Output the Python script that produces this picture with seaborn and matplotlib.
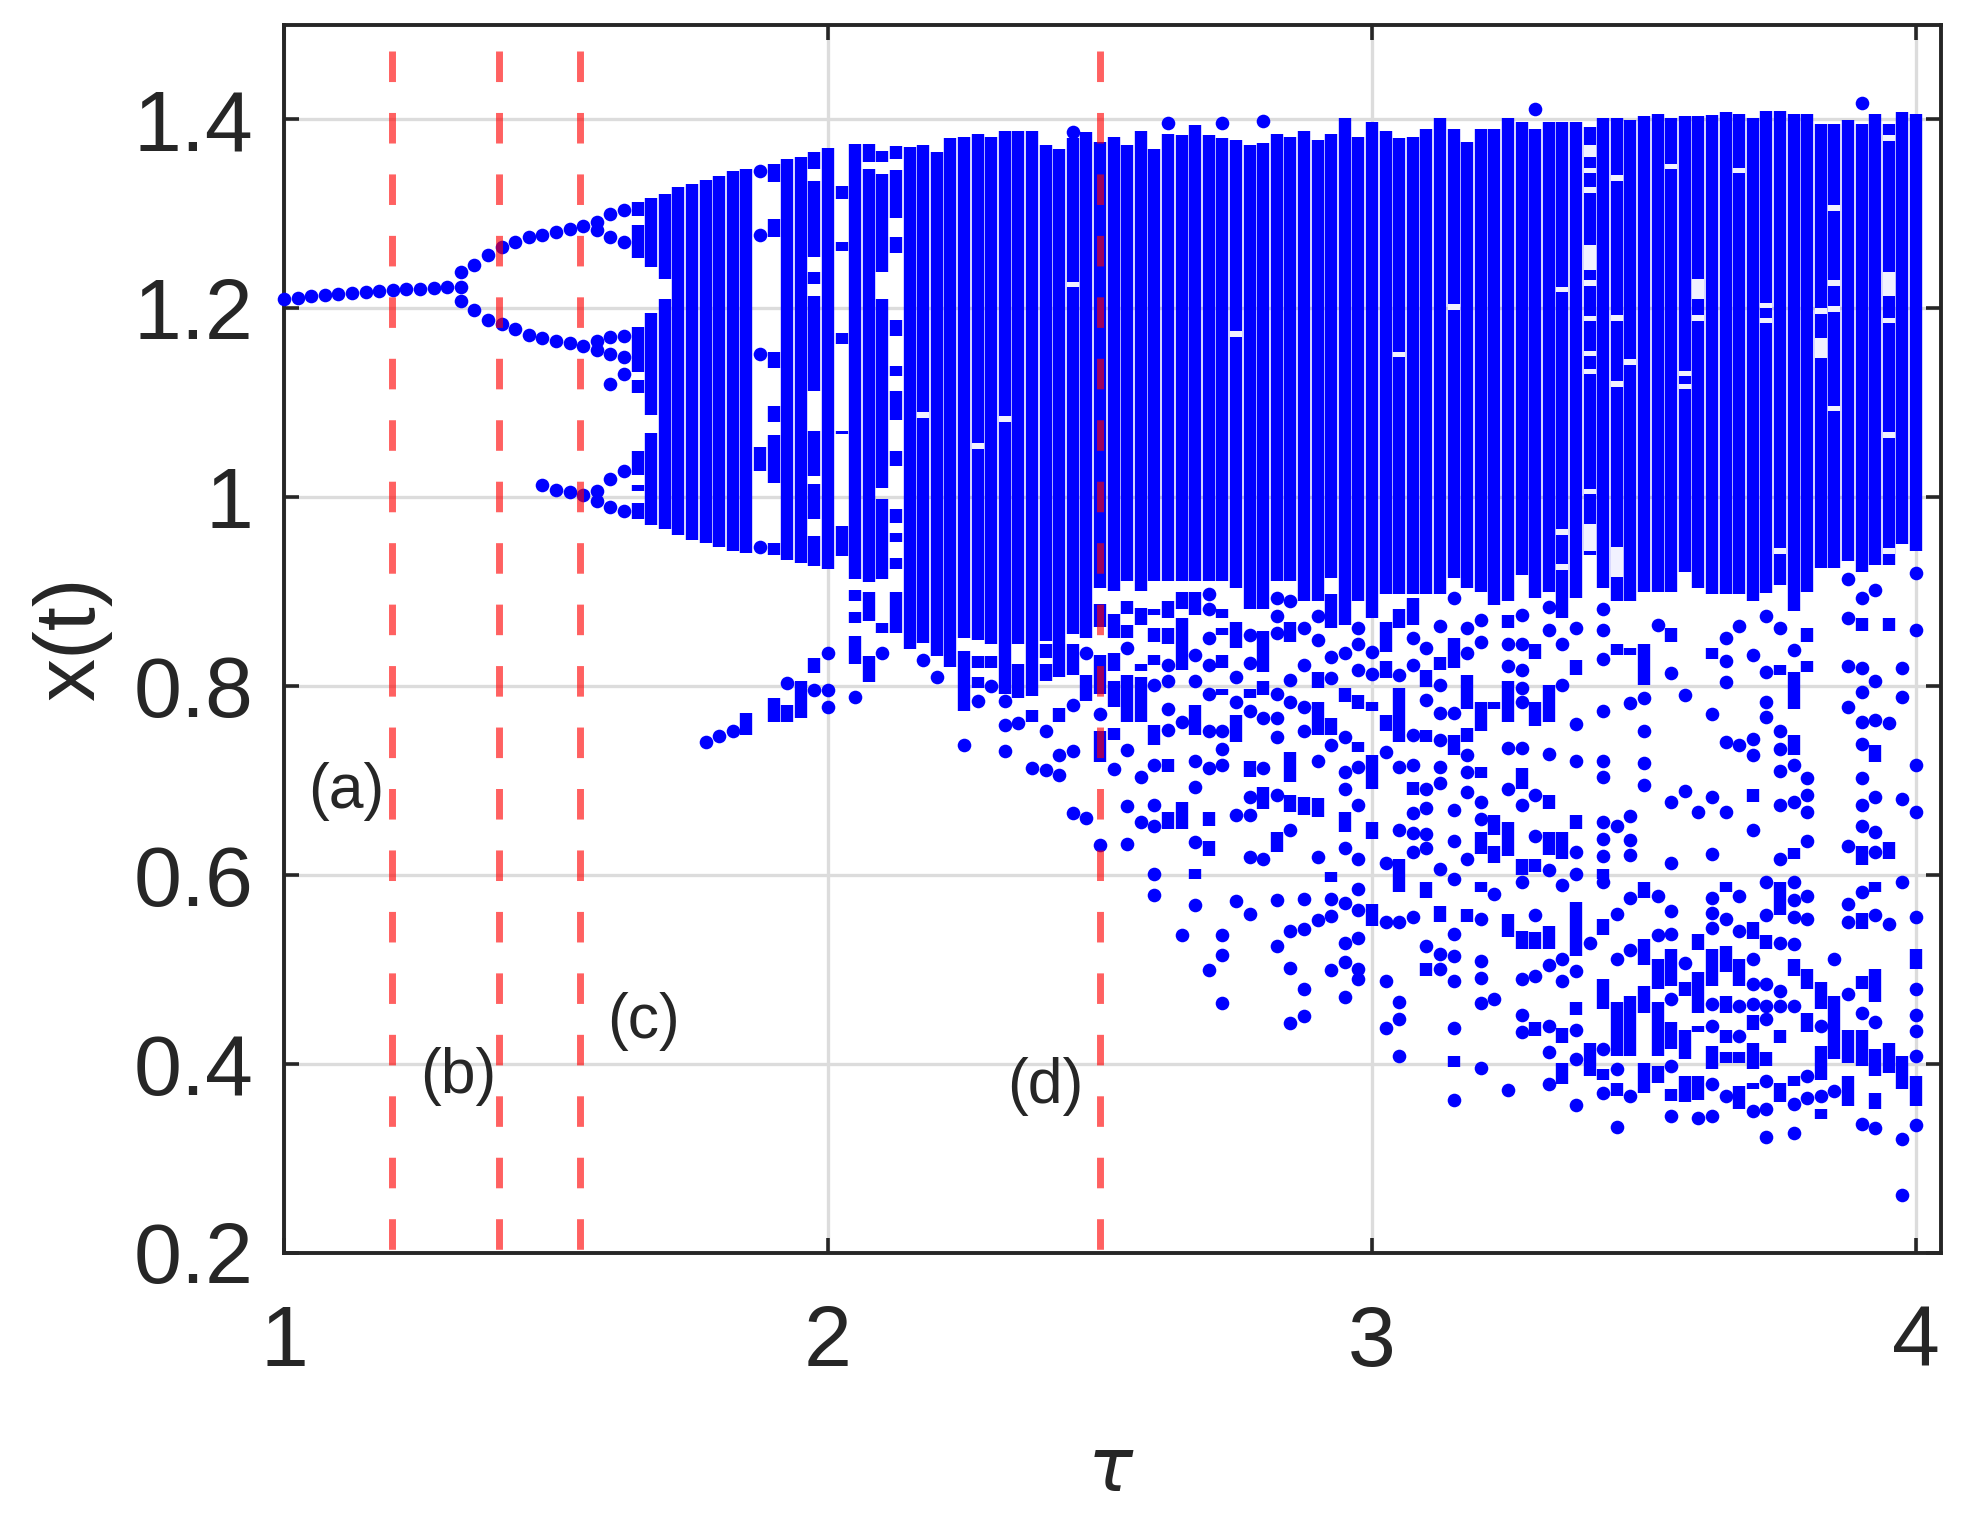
import numpy as np
import pandas as pd
import matplotlib
matplotlib.use('Agg')
import matplotlib.pyplot as plt
import seaborn as sns

# vertical marker lines and their labels
red_tau = [1.198, 1.396, 1.545, 2.5]
panel_labels = ['(a)', '(b)', '(c)', '(d)']
panel_tau = [1.115, 1.32, 1.661, 2.399]
panel_x = [0.688, 0.386, 0.445, 0.376]

x_ticks = [1, 2, 3, 4]
y_ticks = [0.2, 0.4, 0.6, 0.8, 1.0, 1.2, 1.4]
y_tick_labels = ['0.2', '0.4', '0.6', '0.8', '1', '1.2', '1.4']

# single orbit points before the chaotic band, tau: x values
dots_orbit = {
    1.0: [1.21], 1.025: [1.211], 1.05: [1.213], 1.075: [1.214], 1.1: [1.215], 1.125: [1.216],
    1.15: [1.217], 1.175: [1.218], 1.2: [1.219], 1.225: [1.22], 1.25: [1.2205], 1.275: [1.221],
    1.3: [1.222], 1.325: [1.238, 1.222, 1.208], 1.35: [1.246, 1.198], 1.375: [1.256, 1.188],
    1.4: [1.265, 1.183], 1.425: [1.27, 1.178], 1.45: [1.275, 1.172], 1.475: [1.278, 1.169, 1.013],
    1.5: [1.281, 1.165, 1.008], 1.525: [1.284, 1.163, 1.005], 1.55: [1.287, 1.16, 1.002],
    1.575: [1.291, 1.283, 1.165, 1.156, 1.006, 0.996], 1.6: [1.3, 1.276, 1.17, 1.152, 1.12, 1.019, 0.99],
    1.625: [1.304, 1.27, 1.171, 1.148, 1.13, 1.028, 0.985],
    1.775: [0.741], 1.8: [0.747], 1.825: [0.752], 1.875: [1.345, 1.278, 1.152, 0.947],
    1.925: [0.803], 1.975: [0.796], 2.0: [0.835, 0.796, 0.778],
    2.025: [], 2.05: [0.788], 2.1: [0.835], 2.175: [0.828], 2.2: [0.809],
}

# chaotic band, one column for each tau
band_tau = [2.15, 2.175, 2.2, 2.225, 2.25, 2.275, 2.3, 2.325, 2.35, 2.375, 2.4, 2.425, 2.45, 2.475, 2.5,
            2.525, 2.55, 2.575, 2.6, 2.625, 2.65, 2.675, 2.7, 2.725, 2.75, 2.775, 2.8, 2.825, 2.85, 2.875,
            2.9, 2.925, 2.95, 2.975, 3.0, 3.025, 3.05, 3.075, 3.1, 3.125, 3.15, 3.175, 3.2, 3.225, 3.25,
            3.275, 3.3, 3.325, 3.35, 3.375, 3.4, 3.425, 3.45, 3.475, 3.5, 3.525, 3.55, 3.575, 3.6, 3.625,
            3.65, 3.675, 3.7, 3.725, 3.75, 3.775, 3.8, 3.825, 3.85, 3.875, 3.9, 3.925, 3.95, 3.975, 4.0]
band_high = [1.371, 1.373, 1.366, 1.38, 1.381, 1.385, 1.381, 1.388, 1.388, 1.388, 1.373, 1.369, 1.38, 1.387, 1.376,
             1.381, 1.373, 1.388, 1.369, 1.385, 1.383, 1.394, 1.383, 1.38, 1.378, 1.373, 1.375, 1.385, 1.381, 1.388,
             1.378, 1.385, 1.401, 1.381, 1.397, 1.388, 1.38, 1.381, 1.39, 1.401, 1.39, 1.376, 1.39, 1.39, 1.401,
             1.397, 1.39, 1.397, 1.397, 1.397, 1.392, 1.401, 1.401, 1.399, 1.404, 1.406, 1.401, 1.404, 1.404, 1.405,
             1.408, 1.406, 1.402, 1.409, 1.409, 1.406, 1.406, 1.395, 1.395, 1.399, 1.395, 1.406, 1.395, 1.408, 1.406]
band_low = [0.839, 0.846, 0.832, 0.82, 0.851, 0.849, 0.844, 0.791, 0.844, 0.789, 0.848, 0.809, 0.855, 0.851, 0.904,
            0.901, 0.911, 0.901, 0.911, 0.911, 0.911, 0.911, 0.911, 0.911, 0.904, 0.882, 0.882, 0.911, 0.911, 0.89,
            0.89, 0.914, 0.865, 0.89, 0.872, 0.897, 0.897, 0.897, 0.897, 0.897, 0.914, 0.904, 0.9, 0.886, 0.89,
            0.918, 0.893, 0.9, 0.872, 0.893, 0.939, 0.904, 0.89, 0.89, 0.9, 0.9, 0.9, 0.921, 0.904, 0.897,
            0.897, 0.897, 0.89, 0.898, 0.907, 0.879, 0.9, 0.925, 0.925, 0.932, 0.921, 0.928, 0.928, 0.95, 0.943]

# isolated points just above the band
dots_top = {2.45: [1.387], 2.625: [1.396], 2.725: [1.396], 2.8: [1.398], 3.3: [1.411], 3.9: [1.417]}

# light holes in the band, tau and the x range of each
hole_tau = [2.175, 2.325, 2.275, 2.45, 2.75, 3.05, 3.15, 3.35, 3.4, 3.4, 3.4, 3.4, 3.4, 3.4, 3.4, 3.4, 3.4, 3.4,
            3.45, 3.45, 3.45, 3.475, 3.55, 3.6, 3.6, 3.575, 3.575, 3.675, 3.725, 3.725, 3.85, 3.85, 3.85, 3.85,
            3.825, 3.825, 3.95, 3.95, 3.95, 3.95, 3.35, 3.45, 3.95, 3.75, 3.35]
hole_high = [1.09, 1.086, 1.057, 1.228, 1.176, 1.154, 1.204, 1.223, 1.373, 1.349, 1.328, 1.267, 1.23, 1.192, 1.155, 1.136, 1.009, 0.971,
             1.341, 1.193, 1.123, 1.146, 1.353, 1.231, 1.193, 1.134, 1.12, 1.349, 1.206, 1.19, 1.309, 1.23, 1.202, 1.097,
             1.2, 1.168, 1.383, 1.238, 1.19, 1.069, 0.966, 0.947, 0.946, 0.946, 0.929]
hole_low = [1.084, 1.08, 1.051, 1.222, 1.17, 1.148, 1.198, 1.217, 1.36, 1.343, 1.322, 1.241, 1.224, 1.186, 1.149, 1.13, 1.003, 0.943,
            1.335, 1.187, 1.117, 1.14, 1.347, 1.21, 1.187, 1.128, 1.114, 1.343, 1.2, 1.184, 1.303, 1.224, 1.196, 1.091,
            1.194, 1.147, 1.377, 1.213, 1.184, 1.063, 0.96, 0.915, 0.94, 0.94, 0.923]

# column pieces left of the band, tau: (high, low)
runs_left = {
    1.65: [(1.313, 1.298), (1.288, 1.253), (1.18, 1.133), (1.124, 1.11), (1.049, 1.023), (1.013, 1.006), (0.994, 0.977)],
    1.675: [(1.317, 1.244), (1.195, 1.087), (1.068, 0.97)],
    1.7: [(1.321, 1.231), (1.21, 0.966)],
    1.725: [(1.328, 0.96)], 1.75: [(1.332, 0.955)], 1.775: [(1.336, 0.951)], 1.8: [(1.34, 0.947)],
    1.825: [(1.345, 0.943)], 1.85: [(1.347, 0.941), (0.771, 0.748)],
    1.875: [(1.053, 1.028)],
    1.9: [(1.353, 1.334), (1.295, 1.276), (1.154, 1.137), (1.097, 1.08), (1.066, 1.015), (0.951, 0.939), (0.787, 0.762)],
    1.925: [(1.358, 0.933), (0.78, 0.762)],
    1.95: [(1.36, 0.93), (0.805, 0.766)],
    1.975: [(1.365, 1.348), (1.335, 1.254), (1.238, 1.226), (1.213, 1.1125), (1.07, 1.0225), (1.0137, 0.9766), (0.959, 0.927), (0.83, 0.814)],
    2.0: [(1.37, 0.924)],
    2.025: [(1.33, 1.316), (1.27, 1.261), (1.174, 1.162), (1.07, 1.067), (0.969, 0.938)],
    2.05: [(1.374, 0.913), (0.902, 0.89), (0.878, 0.867), (0.853, 0.823)],
    2.075: [(1.374, 1.355), (1.348, 0.91), (0.899, 0.869), (0.832, 0.804)],
    2.1: [(1.367, 1.355), (1.342, 1.238), (1.21, 1.01), (0.998, 0.913), (0.867, 0.856)],
    2.125: [(1.372, 1.358), (1.346, 1.296), (1.275, 1.259), (1.188, 1.171), (1.139, 1.128), (1.112, 1.082),
            (1.049, 1.033), (0.987, 0.973), (0.962, 0.952), (0.936, 0.924), (0.9, 0.856)],
}

# scattered points under the band, tau below 2.9
dots_mid = {
    2.25: [0.738], 2.275: [0.784], 2.3: [0.8], 2.325: [0.784, 0.759, 0.731], 2.35: [0.761], 2.375: [0.713],
    2.4: [0.752, 0.711], 2.425: [0.727, 0.706], 2.45: [0.78, 0.731, 0.665], 2.475: [0.835, 0.66],
    2.5: [0.77, 0.632], 2.525: [0.712], 2.55: [0.84, 0.732, 0.673, 0.633], 2.575: [0.704, 0.656],
    2.6: [0.801, 0.716, 0.674, 0.652, 0.601, 0.579], 2.625: [0.822, 0.805, 0.776, 0.753],
    2.65: [0.762, 0.536], 2.675: [0.833, 0.805, 0.721, 0.693, 0.635, 0.568],
    2.7: [0.897, 0.882, 0.851, 0.822, 0.792, 0.752, 0.713, 0.499], 2.725: [0.752, 0.733, 0.716, 0.536, 0.515, 0.464],
    2.75: [0.81, 0.783, 0.663, 0.572], 2.775: [0.854, 0.824, 0.773, 0.682, 0.663, 0.619, 0.558],
    2.8: [0.766, 0.713, 0.617], 2.825: [0.893, 0.874, 0.856, 0.792, 0.766, 0.746, 0.684, 0.573, 0.525],
    2.85: [0.89, 0.806, 0.783, 0.647, 0.54, 0.501, 0.443], 2.875: [0.861, 0.822, 0.778, 0.752, 0.574, 0.543, 0.479, 0.45],
}
runs_mid = {
    2.25: [(0.837, 0.773)], 2.275: [(0.832, 0.819), (0.809, 0.798)], 2.3: [(0.832, 0.819)], 2.35: [(0.823, 0.787)],
    2.375: [(0.775, 0.762)], 2.4: [(0.844, 0.83), (0.823, 0.805)], 2.425: [(0.777, 0.762)], 2.45: [(0.844, 0.812)],
    2.475: [(0.812, 0.784)], 2.5: [(0.887, 0.862), (0.833, 0.791), (0.752, 0.72)],
    2.525: [(0.876, 0.851), (0.835, 0.816), (0.805, 0.778), (0.755, 0.743)],
    2.55: [(0.89, 0.876), (0.865, 0.851), (0.812, 0.762)], 2.575: [(0.883, 0.865), (0.823, 0.816), (0.809, 0.762)],
    2.6: [(0.882, 0.875), (0.861, 0.847), (0.833, 0.822), (0.759, 0.737)],
    2.625: [(0.89, 0.872), (0.861, 0.844), (0.723, 0.709), (0.667, 0.649)],
    2.65: [(0.9, 0.882), (0.872, 0.817), (0.677, 0.649)],
    2.675: [(0.9, 0.875), (0.78, 0.748), (0.606, 0.596)], 2.7: [(0.667, 0.652), (0.636, 0.62)],
    2.725: [(0.882, 0.872), (0.861, 0.854), (0.833, 0.819), (0.797, 0.79)],
    2.75: [(0.868, 0.84), (0.769, 0.741)], 2.775: [(0.797, 0.787), (0.721, 0.704)],
    2.8: [(0.858, 0.815), (0.805, 0.79), (0.693, 0.67)], 2.825: [(0.645, 0.624)],
    2.85: [(0.868, 0.847), (0.73, 0.698), (0.684, 0.667)], 2.875: [(0.682, 0.663)],
}

# tau from 2.9 to 3.3
dots_low = {
    2.9: [0.874, 0.849, 0.721, 0.619, 0.552], 2.925: [0.831, 0.808, 0.737, 0.574, 0.556, 0.499],
    2.95: [0.835, 0.746, 0.709, 0.691, 0.628, 0.57, 0.528, 0.508, 0.471],
    2.975: [0.861, 0.844, 0.817, 0.714, 0.674, 0.617, 0.585, 0.563, 0.533, 0.5, 0.49],
    3.0: [0.836, 0.813], 3.025: [0.73, 0.613, 0.55, 0.488, 0.438],
    3.05: [0.812, 0.714, 0.647, 0.55, 0.465, 0.447, 0.408],
    3.075: [0.851, 0.822, 0.748, 0.716, 0.665, 0.644, 0.624, 0.555],
    3.1: [0.84, 0.785, 0.691, 0.671, 0.643, 0.628, 0.525],
    3.125: [0.863, 0.801, 0.771, 0.743, 0.714, 0.697, 0.606, 0.516, 0.5],
    3.15: [0.893, 0.771, 0.669, 0.636, 0.596, 0.537, 0.514, 0.488, 0.438, 0.361],
    3.175: [0.861, 0.835, 0.727, 0.709, 0.688, 0.617],
    3.2: [0.87, 0.847, 0.677, 0.659, 0.553, 0.509, 0.491, 0.464, 0.395],
    3.225: [0.58, 0.469], 3.25: [0.844, 0.821, 0.734, 0.691, 0.372],
    3.275: [0.875, 0.844, 0.817, 0.798, 0.783, 0.734, 0.674, 0.592, 0.49, 0.452, 0.433],
    3.3: [0.684, 0.641, 0.557, 0.493],
}
runs_low = {
    2.9: [(0.815, 0.798), (0.783, 0.748), (0.681, 0.661)], 2.925: [(0.897, 0.861), (0.766, 0.748), (0.603, 0.592)],
    2.95: [(0.798, 0.783), (0.667, 0.645)], 2.975: [(0.79, 0.776), (0.741, 0.73)],
    3.0: [(0.783, 0.773), (0.727, 0.691), (0.656, 0.638), (0.569, 0.546)],
    3.025: [(0.868, 0.836), (0.826, 0.808), (0.769, 0.752)],
    3.05: [(0.882, 0.861), (0.798, 0.741), (0.617, 0.582)],
    3.075: [(0.893, 0.865), (0.698, 0.684)], 3.1: [(0.817, 0.799), (0.753, 0.741), (0.592, 0.575), (0.507, 0.493)],
    3.125: [(0.831, 0.817), (0.567, 0.55)], 3.15: [(0.851, 0.819), (0.748, 0.727), (0.408, 0.396)],
    3.175: [(0.812, 0.776), (0.755, 0.741), (0.564, 0.55)],
    3.2: [(0.783, 0.752), (0.714, 0.702), (0.645, 0.622), (0.592, 0.582)],
    3.225: [(0.783, 0.776), (0.663, 0.642), (0.631, 0.612)],
    3.25: [(0.875, 0.861), (0.805, 0.762), (0.656, 0.62), (0.559, 0.534)],
    3.275: [(0.713, 0.691), (0.617, 0.6), (0.541, 0.521)],
    3.3: [(0.844, 0.829), (0.783, 0.758), (0.617, 0.603), (0.539, 0.521), (0.444, 0.429)],
}

# tau from 3.325 to 3.65
dots_right = {
    3.325: [0.884, 0.859, 0.728, 0.605, 0.504, 0.44, 0.412, 0.378],
    3.35: [0.844, 0.801, 0.589, 0.511, 0.488], 3.375: [0.861, 0.76, 0.721, 0.624, 0.601, 0.498, 0.436, 0.405, 0.356],
    3.4: [0.528], 3.425: [0.881, 0.859, 0.829, 0.773, 0.721, 0.704, 0.656, 0.638, 0.62, 0.592, 0.415, 0.369],
    3.45: [0.652, 0.559, 0.511, 0.394, 0.333], 3.475: [0.782, 0.662, 0.637, 0.621, 0.575, 0.52, 0.366],
    3.5: [0.787, 0.752, 0.718, 0.695], 3.525: [0.865, 0.578, 0.536],
    3.55: [0.814, 0.677, 0.613, 0.562, 0.537, 0.468, 0.398, 0.345], 3.575: [0.79, 0.689, 0.507],
    3.6: [0.667, 0.342], 3.625: [0.77, 0.682, 0.622, 0.575, 0.56, 0.544, 0.463, 0.44, 0.378, 0.345],
    3.65: [0.851, 0.826, 0.804, 0.741, 0.667, 0.553, 0.366],
}
runs_right = {
    3.325: [(0.801, 0.762), (0.684, 0.67), (0.645, 0.621), (0.546, 0.521)],
    3.35: [(0.645, 0.617), (0.438, 0.422), (0.401, 0.378)],
    3.375: [(0.828, 0.812), (0.663, 0.649), (0.571, 0.514), (0.465, 0.451)],
    3.4: [(0.422, 0.387)], 3.425: [(0.606, 0.596), (0.553, 0.536), (0.49, 0.458), (0.394, 0.383)],
    3.45: [(0.844, 0.833), (0.465, 0.408), (0.38, 0.366)], 3.475: [(0.84, 0.833), (0.472, 0.408)],
    3.5: [(0.844, 0.801), (0.592, 0.575), (0.532, 0.504), (0.482, 0.454), (0.401, 0.369)],
    3.525: [(0.511, 0.479), (0.465, 0.408), (0.398, 0.38)],
    3.55: [(0.861, 0.847), (0.521, 0.482), (0.444, 0.415), (0.373, 0.36)],
    3.575: [(0.486, 0.472), (0.436, 0.405), (0.387, 0.359)],
    3.6: [(0.537, 0.52), (0.497, 0.454), (0.44, 0.433), (0.387, 0.362)],
    3.625: [(0.84, 0.829), (0.521, 0.482), (0.419, 0.394)],
    3.65: [(0.592, 0.582), (0.525, 0.497), (0.472, 0.454), (0.436, 0.422), (0.412, 0.401)],
}

# tau from 3.675 to 4
dots_edge = {
    3.675: [0.863, 0.737, 0.578, 0.541, 0.461, 0.429], 3.7: [0.833, 0.744, 0.727, 0.647, 0.511, 0.484, 0.463, 0.35],
    3.725: [0.874, 0.815, 0.783, 0.767, 0.592, 0.557, 0.484, 0.461, 0.447, 0.382, 0.352, 0.322],
    3.75: [0.861, 0.752, 0.733, 0.71, 0.674, 0.617, 0.528, 0.477, 0.461],
    3.775: [0.838, 0.716, 0.677, 0.592, 0.573, 0.555, 0.527, 0.461, 0.357, 0.327],
    3.8: [0.702, 0.684, 0.667, 0.636, 0.578, 0.553, 0.387, 0.364], 3.825: [0.44, 0.366], 3.85: [0.511, 0.371],
    3.875: [0.913, 0.872, 0.821, 0.778, 0.631, 0.569, 0.55, 0.474],
    3.9: [0.893, 0.819, 0.794, 0.762, 0.739, 0.702, 0.674, 0.652, 0.582, 0.454, 0.336],
    3.925: [0.902, 0.805, 0.764, 0.682, 0.645, 0.624, 0.557, 0.444, 0.332],
    3.95: [0.761, 0.548], 3.975: [0.819, 0.788, 0.68, 0.592, 0.32, 0.261],
    4.0: [0.92, 0.859, 0.716, 0.667, 0.555, 0.479, 0.451, 0.435, 0.408, 0.335],
}
runs_edge = {
    3.675: [(0.511, 0.482), (0.412, 0.401), (0.376, 0.352)],
    3.7: [(0.691, 0.677), (0.55, 0.532), (0.451, 0.436), (0.422, 0.394), (0.38, 0.373)],
    3.725: [(0.536, 0.521), (0.412, 0.398)],
    3.75: [(0.822, 0.812), (0.592, 0.557), (0.436, 0.422), (0.38, 0.359)],
    3.775: [(0.815, 0.776), (0.748, 0.727), (0.628, 0.617), (0.511, 0.493), (0.387, 0.376)],
    3.8: [(0.861, 0.847), (0.826, 0.815), (0.5, 0.479), (0.454, 0.433)],
    3.825: [(0.486, 0.458), (0.419, 0.383), (0.352, 0.341)], 3.85: [(0.472, 0.405)],
    3.875: [(0.436, 0.401), (0.387, 0.355)],
    3.9: [(0.872, 0.858), (0.631, 0.61), (0.56, 0.543), (0.493, 0.479), (0.436, 0.398)],
    3.925: [(0.737, 0.719), (0.592, 0.582), (0.5, 0.465), (0.415, 0.387), (0.369, 0.352)],
    3.95: [(0.872, 0.858), (0.635, 0.617), (0.422, 0.39)], 3.975: [(0.408, 0.373)],
    4.0: [(0.521, 0.5), (0.387, 0.355)],
}


def collect_dots(*groups):
    '''Flatten tau: [x] dicts into one table'''
    rows = [(t, v) for g in groups for t, vals in g.items() for v in vals]
    return pd.DataFrame(rows, columns=['tau', 'x'])


def collect_runs(*groups):
    '''Flatten tau: [(high, low)] dicts into three lists'''
    rows = [(t, hi, lo) for g in groups for t, pairs in g.items() for hi, lo in pairs]
    return [r[0] for r in rows], [r[1] for r in rows], [r[2] for r in rows]


sns.set_style('ticks')
plt.rcParams['font.family'] = ['Liberation Sans', 'DejaVu Sans']
plt.rcParams['mathtext.fontset'] = 'dejavusans'

dark = '#262626'
blue = '#0000ff'
col_lw = 8.9

fig = plt.figure(figsize=(19.67, 15.14), dpi=100)
ax = fig.add_axes([284 / 1967, 1 - 1252.5 / 1514, (1941 - 284) / 1967, (1252.5 - 25) / 1514])

ax.vlines(band_tau, band_low, band_high, color=blue, lw=col_lw, zorder=2)
run_tau, run_high, run_low = collect_runs(runs_left, runs_mid, runs_low, runs_right, runs_edge)
ax.vlines(run_tau, run_low, run_high, color=blue, lw=col_lw, zorder=2)
ax.vlines(hole_tau, hole_low, hole_high, color='white', lw=col_lw, alpha=0.95, zorder=2.5)

dots = collect_dots(dots_orbit, dots_top, dots_mid, dots_low, dots_right, dots_edge)
sns.scatterplot(data=dots, x='tau', y='x', color=blue, s=96, linewidth=0, clip_on=False,
                legend=False, zorder=3, ax=ax)

ax.vlines(red_tau, [1.472] * 4, [0.2] * 4, color='#ff0000', alpha=0.62, lw=5,
          linestyles=[(0, (4.4, 4.45))], zorder=4)

for lab, t, v in zip(panel_labels, panel_tau, panel_x):
    ax.text(t, v, lab, fontsize=45, color=dark, ha='center', va='center')

ax.set_xlim(1, 4.046)
ax.set_ylim(0.2, 1.5)
ax.set_xticks(x_ticks)
ax.set_yticks(y_ticks)
ax.set_yticklabels(y_tick_labels)
ax.set_axisbelow(True)
ax.grid(True, color='#dcdcdc', lw=2.4)
ax.tick_params(direction='in', top=True, right=True, length=11, width=2.6, color=dark,
               labelcolor=dark, labelsize=62)
ax.tick_params(axis='x', pad=37)
ax.tick_params(axis='y', pad=22)
for side in ax.spines.values():
    side.set_linewidth(2.8)
    side.set_color(dark)

ax.set_xlabel(r'$\tau$', fontsize=54, color=dark)
ax.xaxis.set_label_coords(0.499, -0.15)
ax.set_ylabel('x(t)', fontsize=62, color=dark)
ax.yaxis.set_label_coords(-0.104, 0.5)

fig.savefig('out.png', dpi=100)
